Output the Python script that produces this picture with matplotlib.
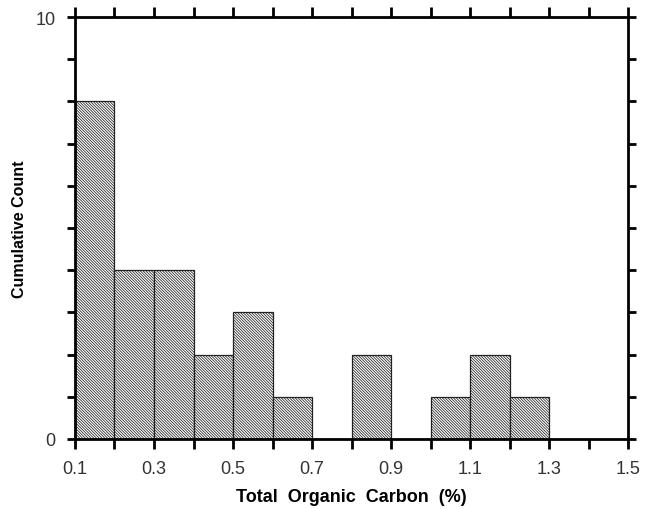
import matplotlib
matplotlib.use('Agg')
import matplotlib.pyplot as plt
import numpy as np

# histogram of TOC (%), bin left edges and counts
bin_left = [0.1, 0.2, 0.3, 0.4, 0.5, 0.6, 0.7, 0.8, 0.9, 1.0, 1.1, 1.2]
counts = [8, 4, 4, 2, 3, 1, 0, 2, 0, 1, 2, 1]
bin_width = 0.1

x_major = [0.1, 0.3, 0.5, 0.7, 0.9, 1.1, 1.3, 1.5]
x_labels = ['0.1', '0.3', '0.5', '0.7', '0.9', '1.1', '1.3', '1.5']

plt.rcParams['font.family'] = ['Liberation Sans', 'DejaVu Sans']
plt.rcParams['hatch.linewidth'] = 0.55
plt.rcParams['hatch.color'] = '#555555'

fig = plt.figure(figsize=(6.55, 5.10), dpi=100)
ax = fig.add_axes([0.1145, 0.1373, 0.8443, 0.8274])

ax.bar(bin_left, counts, width=bin_width, align='edge',
       facecolor='white', edgecolor='#222222', linewidth=0.9,
       hatch='\\' * 12)

ax.set_xlim(0.1, 1.5)
ax.set_ylim(0, 10)

ax.set_xticks(x_major)
ax.set_xticklabels(x_labels)
ax.set_xticks(np.arange(0.2, 1.5, 0.2), minor=True)
ax.set_yticks([0, 10])
ax.set_yticklabels(['0', '10'])
ax.set_yticks(np.arange(1, 10), minor=True)

for s in ax.spines.values():
    s.set_linewidth(2.0)
    s.set_color('black')

ax.tick_params(which='both', direction='out', top=True, right=True,
               width=2.0, color='black', labelsize=13, pad=8,
               labelcolor='#333333')
ax.tick_params(axis='x', which='both', length=7)
ax.tick_params(axis='y', which='both', length=6)

ax.set_xlabel('Total  Organic  Carbon  (%)', fontsize=13, fontweight='bold',
              labelpad=8)
ax.set_ylabel('Cumulative Count', fontsize=11.5, fontweight='bold', labelpad=6)

fig.savefig('out.png', dpi=100)
